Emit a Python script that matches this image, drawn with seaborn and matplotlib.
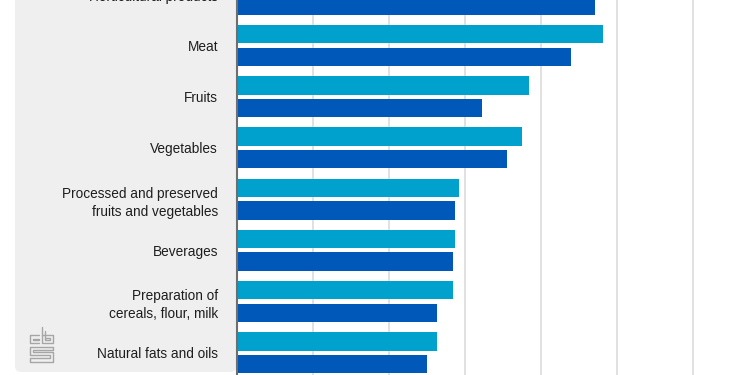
import matplotlib
matplotlib.use("Agg")
import matplotlib.pyplot as plt
from matplotlib.patches import FancyBboxPatch
from matplotlib.lines import Line2D
import matplotlib.transforms as mtransforms
import seaborn as sns
import pandas as pd

categories = [
    "Horticultural products",
    "Meat",
    "Fruits",
    "Vegetables",
    "Processed and preserved\nfruits and vegetables",
    "Beverages",
    "Preparation of\ncereals, flour, milk",
    "Natural fats and oils",
]
series_names = ["Series 1", "Series 2"]
values_light = [50.0, 48.2, 38.4, 37.5, 29.2, 28.7, 28.4, 26.4]
values_dark = [47.1, 44.0, 32.3, 35.6, 28.7, 28.4, 26.4, 25.0]
colors = ["#00A1CD", "#0058B8"]

rows = []
for c, a, b in zip(categories, values_light, values_dark):
    rows.append({"category": c, "series": series_names[0], "value": a})
    rows.append({"category": c, "series": series_names[1], "value": b})
df = pd.DataFrame(rows)

sns.set_theme(style="white")
plt.rcParams["font.family"] = ["Liberation Sans", "DejaVu Sans"]

W, H = 750, 375
fig = plt.figure(figsize=(7.5, 3.75), dpi=100)
fig.patch.set_facecolor("white")

# grey label panel
panel = FancyBboxPatch((15, 3), 221.5, 420, boxstyle="round,pad=0,rounding_size=6",
                       transform=None, facecolor="#efefef", edgecolor="none", zorder=-5)
fig.patches.append(panel)

ax = fig.add_axes([236.5 / W, 0, (W - 236.5) / W, 1])
ax.set_facecolor("none")
ax.set_zorder(2)

sns.barplot(data=df, y="category", x="value", hue="series", order=categories,
            hue_order=series_names, palette=colors, orient="h", width=0.886, gap=0.19,
            saturation=1, linewidth=0, legend=False, ax=ax, zorder=3)

ax.set_xlim(0, (W - 236.5) / 76.1 * 10)
ax.set_ylim(7.435, 0.111)
ax.set_xticks([0, 10, 20, 30, 40, 50, 60])
ax.set_xticklabels([])
ax.grid(axis="x", color="#dcdcdc", linewidth=1.2)
ax.grid(axis="y", visible=False)
ax.set_axisbelow(True)
for s in ["top", "right", "bottom"]:
    ax.spines[s].set_visible(False)
ax.spines["left"].set_color("#6e6e6e")
ax.spines["left"].set_linewidth(1.5)
ax.spines["left"].set_zorder(5)
ax.set_xlabel("")
ax.set_ylabel("")
label_size = 9.8
label_color = "#1e1e1e"
ax.tick_params(axis="y", length=0, pad=13.3, labelsize=label_size, labelcolor=label_color)
ax.tick_params(axis="x", length=0)
for lab in ax.get_yticklabels():
    lab.set_linespacing(1.4)
    lab.set_horizontalalignment("right")

# first category label sits just above the visible area
offset = mtransforms.ScaledTranslation(-18.5 / 100, -2.5 / 100, fig.dpi_scale_trans)
ax.text(0, 0, categories[0], transform=ax.get_yaxis_transform() + offset,
        ha="right", va="center", fontsize=label_size, color=label_color, clip_on=False)

# CBS logo (outline sketch)
def seg(xs, ys):
    fig.lines.append(Line2D(xs, [H - y for y in ys], transform=None,
                            color="#a6a6a6", linewidth=1.0))

# c
seg([39, 29.5, 29.5, 39], [335, 335, 343, 343])
seg([39, 33, 33, 39], [338.5, 338.5, 340, 340])
# b
seg([41.5, 41.5, 53, 53, 41.5], [327, 343, 343, 335, 335])
seg([45, 45, 49.5, 49.5, 45], [331, 340, 340, 338, 338])
# s
seg([53, 29.5, 29.5, 50, 50, 29.5, 29.5, 53, 53, 33, 33, 53, 53],
    [346.5, 346.5, 355, 355, 358, 358, 361.5, 361.5, 351.5, 351.5, 350, 350, 346.5])

fig.savefig("out.png", dpi=100)
